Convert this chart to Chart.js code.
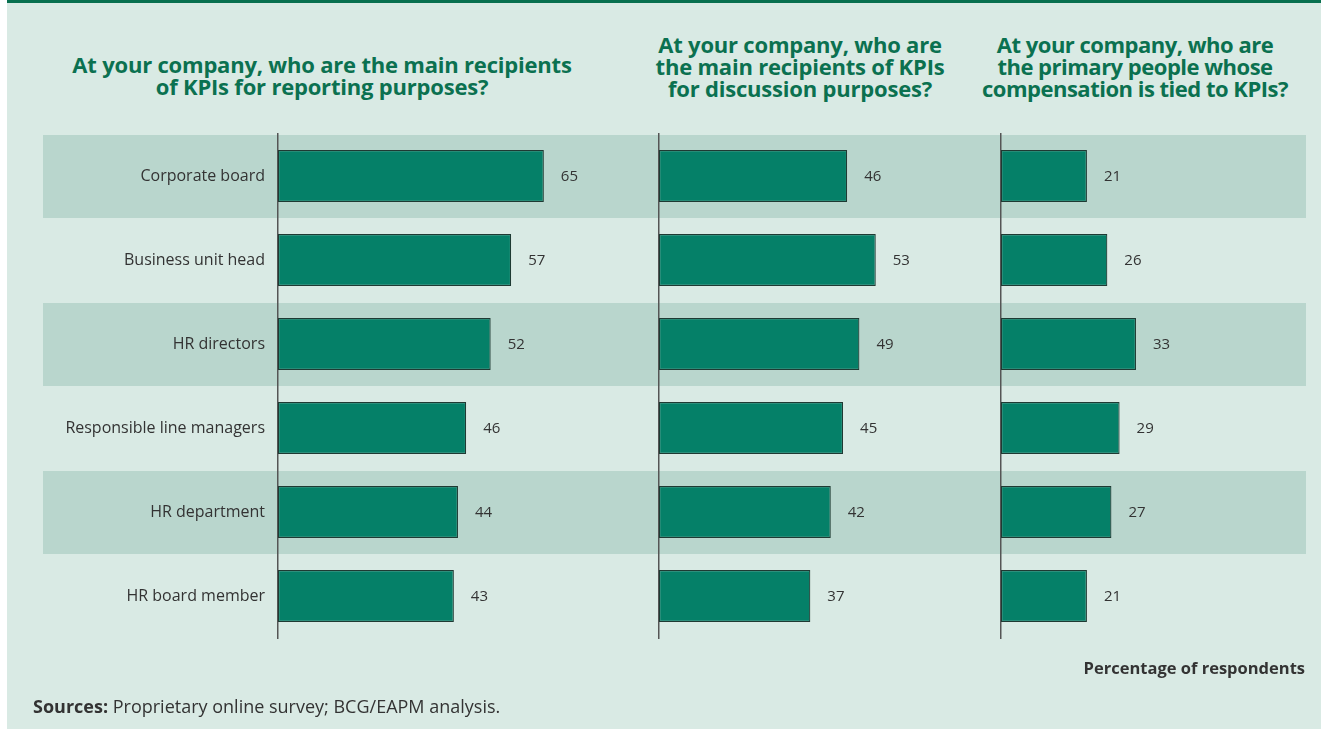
<!DOCTYPE html>
<html>
<head>
<title>KPI recipients</title>
<script src="https://cdn.jsdelivr.net/npm/chart.js"></script>
<style>
  body { margin: 0; width: 1321px; height: 729px; position: relative; overflow: hidden; background: #fff; font-family: 'Open Sans', sans-serif; }
  #bg { position: absolute; left: 7px; top: 0; right: 0; bottom: 0; background: #d9eae4; border-top: 3px solid #08704f; }
  canvas { position: absolute; top: 0; }
  .title { position: absolute; width: 600px; color: #0b7150; font-weight: bold; font-size: 22px; line-height: 22px; text-align: center; letter-spacing: -0.2px; }
  .note { position: absolute; color: #333; font-size: 18px; }
</style>
</head>
<body>
<div id="bg"></div>
<div class="title" style="left:22px; top:53px;">At your company, who are the main recipients<br>of KPIs for reporting purposes?</div>
<div class="title" style="left:500px; top:33px;">At your company, who are<br>the main recipients of KPIs<br>for discussion purposes?</div>
<div class="title" style="left:835px; top:33px; letter-spacing:-0.5px;">At your company, who are<br>the primary people whose<br>compensation is tied to KPIs?</div>
<canvas id="c1" width="640" height="729" style="left:0;"></canvas>
<canvas id="c2" width="345" height="729" style="left:640px;"></canvas>
<canvas id="c3" width="336" height="729" style="left:985px;"></canvas>
<div class="note" style="right:16px; top:656px; font-weight:bold; font-size:16.5px;">Percentage of respondents</div>
<div class="note" style="left:33px; top:694px;"><b>Sources:</b> Proprietary online survey; BCG/EAPM analysis.</div>
<script>
  const categories = ['Corporate board', 'Business unit head', 'HR directors', 'Responsible line managers', 'HR department', 'HR board member'];
  const reporting = [65, 57, 52, 46, 44, 43];
  const discussion = [46, 53, 49, 45, 42, 37];
  const compensation = [21, 26, 33, 29, 27, 21];

  const PX_PER_UNIT = 4.09;

  // shaded rows behind every other category, drawn before axes and labels
  const bands = {
    id: 'bands',
    beforeDraw(chart, args, opts) {
      const y = chart.scales.y;
      const half = (y.getPixelForValue(1) - y.getPixelForValue(0)) / 2;
      const ctx = chart.ctx;
      ctx.save();
      ctx.fillStyle = '#b9d6cd';
      for (let i = 0; i < categories.length; i += 2) {
        const yc = y.getPixelForValue(i);
        ctx.fillRect(opts.left, yc - half + 1, opts.right - opts.left, half * 2 - 1);
      }
      ctx.restore();
    }
  };

  const valueLabels = {
    id: 'valueLabels',
    afterDatasetsDraw(chart) {
      const ctx = chart.ctx;
      const meta = chart.getDatasetMeta(0);
      ctx.save();
      ctx.font = '15px "Open Sans"';
      ctx.fillStyle = '#333';
      ctx.textAlign = 'left';
      ctx.textBaseline = 'middle';
      meta.data.forEach((bar, i) => {
        ctx.fillText(chart.data.datasets[0].data[i], bar.x + 17, bar.y + 1);
      });
      ctx.restore();
    }
  };

  function makeChart(id, values, axisX, bandLeft, bandRight, showLabels) {
    const canvas = document.getElementById(id);
    return new Chart(canvas, {
      type: 'bar',
      data: {
        labels: categories,
        datasets: [{
          data: values,
          backgroundColor: '#058068',
          borderColor: '#1f3a33',
          borderWidth: 1.2,
          borderSkipped: false,
          barPercentage: 0.62,
          categoryPercentage: 1
        }]
      },
      options: {
        indexAxis: 'y',
        responsive: false,
        animation: false,
        layout: { padding: { top: 134, bottom: 91, left: 0, right: 0 } },
        plugins: {
          legend: { display: false },
          tooltip: { enabled: false },
          bands: { left: bandLeft, right: bandRight }
        },
        scales: {
          x: { display: false, min: 0, max: (canvas.width - axisX) / PX_PER_UNIT },
          y: {
            afterFit(scale) { scale.width = axisX; },
            grid: { display: false, drawTicks: false },
            border: { display: true, color: '#555', width: 1.5 },
            ticks: {
              display: showLabels,
              padding: 13,
              color: '#333',
              font: { family: 'Open Sans', size: 16 }
            }
          }
        }
      },
      plugins: [bands, valueLabels]
    });
  }

  makeChart('c1', reporting, 278, 43, 640, true);
  makeChart('c2', discussion, 19, 0, 345, false);
  makeChart('c3', compensation, 16, 0, 321, false);
</script>
</body>
</html>
